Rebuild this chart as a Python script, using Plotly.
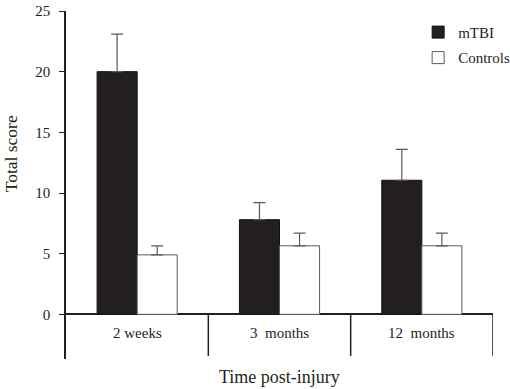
import plotly.graph_objects as go

categories = ["2 weeks", "3  months", "12  months"]
mtbi = [20.0, 7.8, 11.05]
mtbi_err = [3.1, 1.4, 2.55]
controls = [4.9, 5.65, 5.65]
controls_err = [0.75, 1.05, 1.05]
y_ticks = [0, 5, 10, 15, 20, 25]

FONT = "Liberation Serif, Times New Roman, serif"
INK = "#231f20"
GREY = "#5a5a5a"

x_idx = list(range(len(categories)))

fig = go.Figure()
fig.add_trace(go.Bar(
    x=x_idx, y=mtbi, name="mTBI", legendgroup="a",
    marker=dict(color=INK, line=dict(color="#111111", width=1)),
    error_y=dict(type="data", array=mtbi_err, symmetric=False, arrayminus=[0]*3,
                 color=GREY, thickness=1.2, width=6),
))
fig.add_trace(go.Bar(
    x=x_idx, y=controls, name="Controls", legendgroup="b",
    marker=dict(color="white", line=dict(color=GREY, width=1)),
    error_y=dict(type="data", array=controls_err, symmetric=False, arrayminus=[0]*3,
                 color=GREY, thickness=1.2, width=6),
))

ymin = -3.68
box_bottom = -3.43

# frame dividers beneath the category axis
for i in x_idx:
    fig.add_shape(type="line", xref="x", yref="y", x0=i + 0.5, x1=i + 0.5,
                  y0=0, y1=box_bottom, line=dict(color=INK, width=1.5))

# category labels inside the box
for i, c in zip(x_idx, categories):
    fig.add_annotation(x=i, y=-1.55, xref="x", yref="y", text=c, showarrow=False,
                       font=dict(family=FONT, size=15, color=INK))

fig.add_annotation(x=-0.1285, y=0.5886, xref="paper", yref="paper", text="Total score",
                   textangle=-90, showarrow=False, xanchor="center", yanchor="middle",
                   font=dict(family=FONT, size=17.5, color=INK))

fig.add_annotation(x=0.5, y=(359 - 377) / 348.3, xref="paper", yref="paper",
                   text="Time post-injury", showarrow=False, xanchor="center", yanchor="middle",
                   font=dict(family=FONT, size=18, color=INK))

fig.update_layout(
    width=510, height=389,
    margin=dict(l=65.7, r=17, t=10.7, b=30, autoexpand=False),
    paper_bgcolor="white", plot_bgcolor="white",
    barmode="group", bargap=0.437, bargroupgap=0,
    font=dict(family=FONT, size=14, color=INK),
    showlegend=True,
    legend=dict(x=0.8247, y=0.986, xanchor="left", yanchor="top",
                font=dict(family=FONT, size=15, color=INK),
                bgcolor="rgba(0,0,0,0)", tracegroupgap=3, traceorder="grouped"),
    xaxis=dict(range=[-0.5, 2.5], showticklabels=False, showline=False, showgrid=False,
               zeroline=False, ticks="", automargin=False),
    yaxis=dict(range=[ymin, 25], tickvals=y_ticks, showline=True, linecolor=INK, linewidth=1.5,
               ticks="outside", ticklen=5, tickcolor=INK, tickwidth=1.2, showgrid=False,
               zeroline=True, zerolinecolor=INK, zerolinewidth=1.5, automargin=False,
               tickfont=dict(family=FONT, size=15, color=INK), ticklabelstandoff=6),
)

fig.write_html("out.html", config={"displayModeBar": False},
               post_script="document.body.style.margin='0';")
